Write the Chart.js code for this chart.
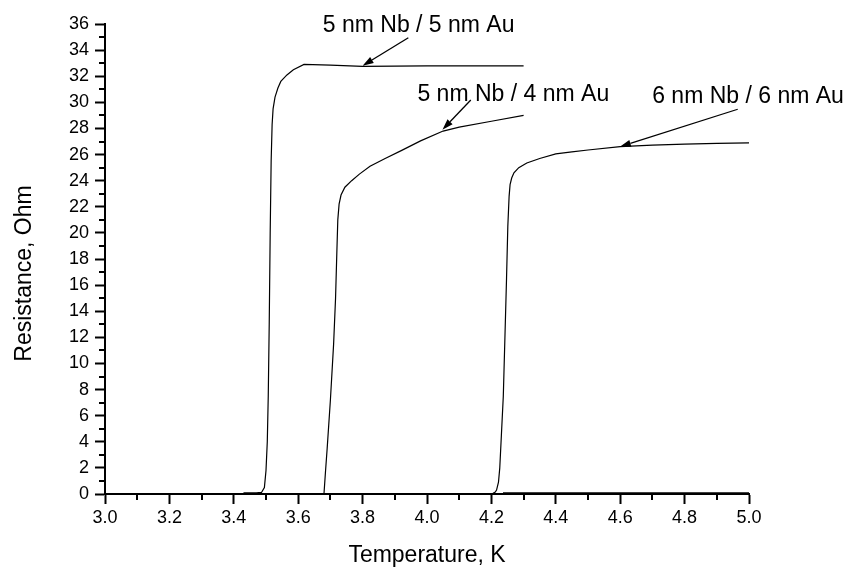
<!DOCTYPE html>
<html>
<head>
<meta charset="utf-8">
<script src="https://cdn.jsdelivr.net/npm/chart.js@4.4.1/dist/chart.umd.min.js"></script>
<style>
  html, body { margin: 0; padding: 0; background: #fff; }
  #wrap { width: 850px; height: 567px; }
</style>
</head>
<body>
<div id="wrap"><canvas id="rtChart" width="850" height="567"></canvas></div>
<script>
// Temperature (K) and resistance (Ohm)
const t55 = [3.43, 3.47, 3.486, 3.495, 3.500, 3.504, 3.507, 3.510, 3.513, 3.516, 3.519, 3.522, 3.528, 3.537, 3.546, 3.565, 3.585, 3.618, 3.70, 3.80, 3.90, 4.00, 4.10, 4.20, 4.30];
const r55 = [0.08, 0.08, 0.12, 0.5, 1.8, 4.0, 7.5, 13.0, 20.0, 25.5, 28.3, 29.5, 30.4, 31.1, 31.6, 32.1, 32.5, 32.9, 32.85, 32.75, 32.78, 32.8, 32.8, 32.8, 32.8];

const t54 = [3.680, 3.685, 3.690, 3.700, 3.710, 3.716, 3.720, 3.723, 3.727, 3.733, 3.745, 3.766, 3.790, 3.823, 3.870, 3.920, 3.980, 4.050, 4.100, 4.200, 4.300];
const r54 = [0.0, 1.8, 3.5, 7.2, 11.5, 15.0, 18.5, 21.0, 22.2, 22.9, 23.5, 24.0, 24.5, 25.1, 25.7, 26.3, 27.05, 27.8, 28.1, 28.55, 29.0];

const t66 = [4.190, 4.205, 4.212, 4.216, 4.222, 4.226, 4.231, 4.237, 4.242, 4.247, 4.251, 4.255, 4.258, 4.263, 4.270, 4.285, 4.310, 4.350, 4.400, 4.450, 4.500, 4.600, 4.700, 4.800, 4.900, 5.000];
const r66 = [0.0, 0.05, 0.15, 0.3, 0.9, 2.0, 4.5, 7.5, 12.0, 16.5, 20.5, 22.8, 23.7, 24.2, 24.6, 25.0, 25.35, 25.7, 26.05, 26.2, 26.35, 26.6, 26.72, 26.8, 26.85, 26.9];

// superconducting branch of the 6/6 sample lying on the axis
const t66base = [4.236, 5.0];
const r66base = [0.08, 0.08];

// labels with arrows, in data units: text anchor, arrow tail, arrow tip
const notes = [
  { text: "5 nm Nb / 5 nm Au", tx: 3.974, ty: 35.36, ax: 3.942, ay: 34.95, bx: 3.800, by: 32.8 },
  { text: "5 nm Nb / 4 nm Au", tx: 4.268, ty: 30.12, ax: 4.136, ay: 30.18, bx: 4.048, by: 27.9 },
  { text: "6 nm Nb / 6 nm Au", tx: 4.997, ty: 29.97, ax: 4.965, ay: 29.47, bx: 4.599, by: 26.6 },
];

const FONT = "'Liberation Sans', Arial, sans-serif";

const toPoints = (xs, ys) => xs.map((x, i) => ({ x: x, y: ys[i] }));

const lineSet = (label, xs, ys) => ({
  label: label,
  data: toPoints(xs, ys),
  borderColor: "#000",
  borderWidth: 1.2,
  pointRadius: 0,
  showLine: true,
  tension: 0,
  fill: false,
});

// minor ticks, label arrows and the y title
const extrasPlugin = {
  id: "extras",
  afterDraw(chart) {
    const { ctx, scales } = chart;
    const x = scales.x;
    const y = scales.y;
    ctx.save();
    ctx.strokeStyle = "#000";
    ctx.lineWidth = 2;

    // minor ticks between the major ones
    for (let i = 0; i < x.ticks.length - 1; i++) {
      const px = Math.round(x.getPixelForValue((x.ticks[i].value + x.ticks[i + 1].value) / 2));
      ctx.beginPath();
      ctx.moveTo(px, y.bottom);
      ctx.lineTo(px, y.bottom + 6);
      ctx.stroke();
    }
    for (let i = 0; i < y.ticks.length - 1; i++) {
      const py = Math.round(y.getPixelForValue((y.ticks[i].value + y.ticks[i + 1].value) / 2));
      ctx.beginPath();
      ctx.moveTo(x.left, py);
      ctx.lineTo(x.left - 6, py);
      ctx.stroke();
    }

    // annotations
    ctx.fillStyle = "#000";
    ctx.font = `23px ${FONT}`;
    ctx.textAlign = "center";
    ctx.textBaseline = "alphabetic";
    ctx.lineWidth = 1.3;
    notes.forEach((n) => {
      ctx.fillText(n.text, x.getPixelForValue(n.tx), y.getPixelForValue(n.ty));

      const x1 = x.getPixelForValue(n.ax);
      const y1 = y.getPixelForValue(n.ay);
      const x2 = x.getPixelForValue(n.bx);
      const y2 = y.getPixelForValue(n.by);
      const ang = Math.atan2(y2 - y1, x2 - x1);
      const len = 11;
      const half = 3.5;
      const bx = x2 - len * Math.cos(ang);
      const by = y2 - len * Math.sin(ang);

      ctx.beginPath();
      ctx.moveTo(x1, y1);
      ctx.lineTo(bx, by);
      ctx.stroke();

      ctx.beginPath();
      ctx.moveTo(x2, y2);
      ctx.lineTo(bx + half * Math.sin(ang), by - half * Math.cos(ang));
      ctx.lineTo(bx - half * Math.sin(ang), by + half * Math.cos(ang));
      ctx.closePath();
      ctx.fill();
    });

    // y axis title
    ctx.translate(25, 273.5);
    ctx.rotate(-Math.PI / 2);
    ctx.textBaseline = "middle";
    ctx.fillText("Resistance, Ohm", 0, 0);
    ctx.restore();
  },
};

const tickFont = { family: FONT, size: 18 };

new Chart(document.getElementById("rtChart"), {
  type: "scatter",
  data: {
    datasets: [
      lineSet("5 nm Nb / 5 nm Au", t55, r55),
      lineSet("5 nm Nb / 4 nm Au", t54, r54),
      lineSet("6 nm Nb / 6 nm Au", t66, r66),
      lineSet("6 nm Nb / 6 nm Au (base)", t66base, r66base),
    ],
  },
  options: {
    responsive: false,
    animation: false,
    layout: { padding: { left: 0, top: 24, right: 101, bottom: 0 } },
    plugins: {
      legend: { display: false },
      tooltip: { enabled: false },
    },
    scales: {
      x: {
        type: "linear",
        min: 3,
        max: 5,
        afterFit: (s) => { s.height = 73; },
        ticks: {
          stepSize: 0.2,
          autoSkip: false,
          maxRotation: 0,
          padding: 3,
          color: "#000",
          font: tickFont,
          callback: (v) => v.toFixed(1),
        },
        grid: { display: true, drawOnChartArea: false, tickLength: 10, tickWidth: 2, tickColor: "#000" },
        border: { display: true, color: "#000", width: 2 },
        title: {
          display: true,
          text: "Temperature, K",
          color: "#000",
          padding: 0,
          font: { family: FONT, size: 23, lineHeight: 1 },
        },
      },
      y: {
        type: "linear",
        min: 0,
        max: 36,
        afterFit: (s) => { s.width = 105; },
        ticks: {
          stepSize: 2,
          autoSkip: false,
          padding: 6,
          color: "#000",
          font: tickFont,
        },
        grid: { display: true, drawOnChartArea: false, tickLength: 10, tickWidth: 2, tickColor: "#000" },
        border: { display: true, color: "#000", width: 2 },
      },
    },
  },
  plugins: [extrasPlugin],
});
</script>
</body>
</html>
